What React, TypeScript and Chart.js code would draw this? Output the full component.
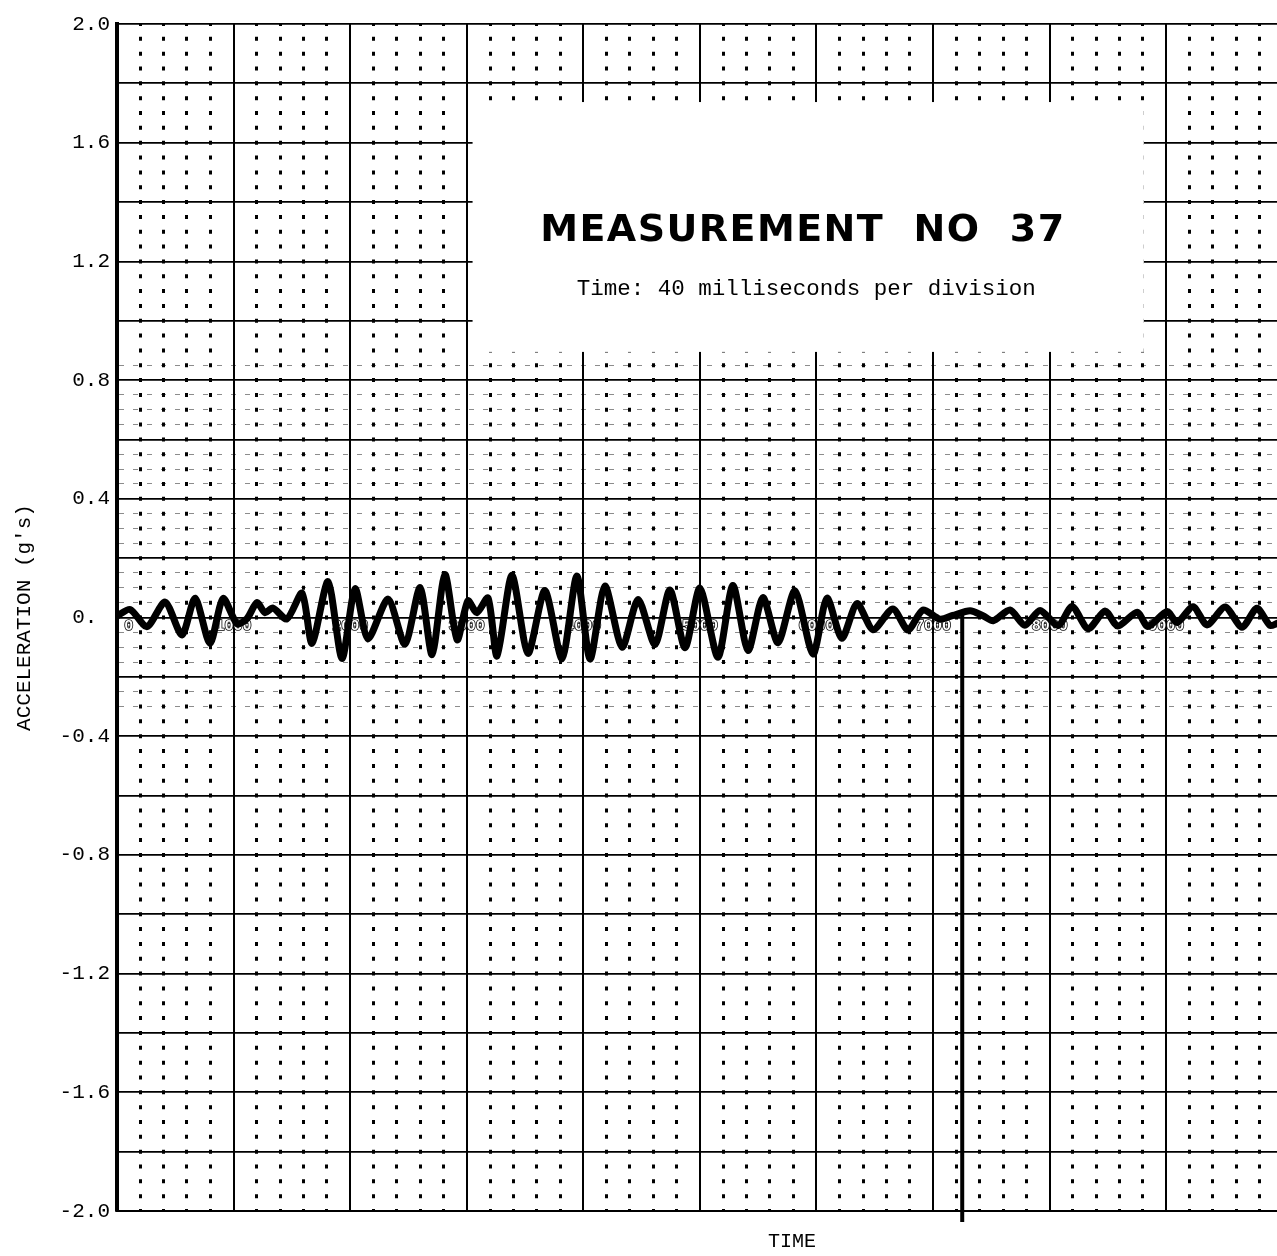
import React, { useEffect, useRef } from "react";
import { Chart, registerables } from "chart.js";

Chart.register(...registerables);

// ---- data (time in ms, acceleration in g) ----
const timeMs = [
  0, 4.5, 10.3, 16.5, 22.3, 26.8, 31.9, 36.4, 41.2, 44.6,
  48.0, 50.8, 53.5, 58.3, 63.5, 66.9, 72.4, 77.2, 81.7, 86.1,
  93.0, 98.8, 104.0, 108.1, 112.5, 116.7, 120.4, 123.5, 127.3, 130.4,
  135.5, 141.0, 146.8, 152.7, 157.8, 162.3, 167.4, 173.3, 178.8, 184.6,
  189.7, 194.9, 200.0, 206.2, 211.3, 216.5, 221.6, 226.8, 232.6, 238.8,
  243.6, 248.7, 253.9, 259.4, 266.2, 271.4, 276.5, 282.4, 286.8, 292.7,
  297.1, 300.6, 306.4, 311.5, 316.7, 322.9, 327.7, 333.2, 339.0, 343.4,
  350.0, 353.7, 360.3, 363.7, 369.2, 374.0, 380.2, 386.0, 391.1, 395.6,
  398.0,
];
const accelG = [
  0.005, 0.027, -0.031, 0.052, -0.059, 0.065, -0.087, 0.064, -0.021, -0.004,
  0.050, 0.016, 0.032, -0.005, 0.082, -0.087, 0.121, -0.138, 0.097, -0.072,
  0.062, -0.090, 0.101, -0.125, 0.145, -0.075, 0.056, 0.016, 0.066, -0.130,
  0.142, -0.121, 0.091, -0.139, 0.140, -0.140, 0.106, -0.100, 0.061, -0.091,
  0.093, -0.102, 0.099, -0.134, 0.108, -0.111, 0.067, -0.085, 0.090, -0.123,
  0.065, -0.070, 0.047, -0.041, 0.029, -0.042, 0.025, -0.006, 0.007, 0.023,
  0.006, -0.011, 0.025, -0.026, 0.024, -0.027, 0.037, -0.038, 0.022, -0.029,
  0.018, -0.030, 0.020, -0.017, 0.036, -0.025, 0.035, -0.033, 0.031, -0.027,
  -0.020,
];

// y-axis tick labels (value -> text)
const yLabelValues = [2.0, 1.6, 1.2, 0.8, 0.4, 0, -0.4, -0.8, -1.2, -1.6, -2.0];
const yLabelTexts = ["2.0", "1.6", "1.2", "0.8", "0.4", "0. ", "-0.4", "-0.8", "-1.2", "-1.6", "-2.0"];

// timing marks printed along the zero line
const markLabels = ["0", "1000", "2000", "3000", "4000", "5000", "6000", "7000", "8000", "9000"];
const markTimes = [4, 40, 80, 120, 160, 200, 240, 280, 320, 360];

const titleText = "MEASUREMENT  NO  37";
const subtitleText = "Time: 40 milliseconds per division";
const yAxisTitle = "ACCELERATION (g's)";
const xAxisTitle = "TIME";
const markerTime = 290;

// ---- layout / style constants ----
const X_MAX = 398;
const MONO = '"Liberation Mono", "DejaVu Sans Mono", monospace';
const BOX = { x1: 122, x2: 352.3, yTop: 1.737, yBottom: 0.895 };
const BAND = { lo: -0.32, hi: 0.88 }; // faint dashed overlay band around the trace

const near = (a: number, b: number) => Math.abs(a - b) < 1e-6;
const isMajorX = (v: number) => near(v / 40, Math.round(v / 40));
const isMinorX = (v: number) => near(v / 8, Math.round(v / 8));
const isMajorY = (v: number) => near(v / 0.2, Math.round(v / 0.2));

const overlayPlugin = {
  id: "overlay",
  beforeDatasetsDraw(chart: any) {
    const { ctx, scales } = chart;
    const x = scales.x;
    const y = scales.y;
    ctx.save();
    // timing marks (under the trace)
    ctx.font = `bold 15px ${MONO}`;
    ctx.textAlign = "center";
    ctx.textBaseline = "middle";
    ctx.lineWidth = 1.6;
    ctx.strokeStyle = "#000";
    ctx.fillStyle = "#fff";
    const my = y.getPixelForValue(-0.03);
    markLabels.forEach((t, i) => {
      const mx = x.getPixelForValue(markTimes[i]);
      ctx.strokeText(t, mx, my);
      ctx.fillText(t, mx, my);
    });
    // pasted-on title label
    const bx1 = x.getPixelForValue(BOX.x1);
    const bx2 = x.getPixelForValue(BOX.x2);
    const by1 = y.getPixelForValue(BOX.yTop);
    const by2 = y.getPixelForValue(BOX.yBottom);
    ctx.fillStyle = "#fff";
    ctx.fillRect(bx1, by1, bx2 - bx1, by2 - by1);
    const cx = (bx1 + bx2) / 2;
    ctx.fillStyle = "#000";
    ctx.font = 'bold 38px "DejaVu Sans", sans-serif';
    const w0 = ctx.measureText(titleText).width;
    const spacing = Math.max(0, (524 - w0) / (titleText.length - 1));
    (ctx as any).letterSpacing = `${spacing}px`;
    ctx.fillText(titleText, cx + spacing / 2 - 6, y.getPixelForValue(1.302));
    (ctx as any).letterSpacing = "0px";
    ctx.font = `22.5px ${MONO}`;
    ctx.fillText(subtitleText, cx - 2, y.getPixelForValue(1.107));
    ctx.restore();
  },
  afterDatasetsDraw(chart: any) {
    const { ctx, scales, chartArea } = chart;
    const mx = scales.x.getPixelForValue(markerTime);
    ctx.save();
    ctx.strokeStyle = "#000";
    ctx.lineWidth = 4;
    ctx.beginPath();
    ctx.moveTo(mx, scales.y.getPixelForValue(0) - 3);
    ctx.lineTo(mx, chartArea.bottom + 11);
    ctx.stroke();
    ctx.restore();
  },
  afterDraw(chart: any) {
    const { ctx, scales, chartArea } = chart;
    ctx.save();
    ctx.fillStyle = "#000";
    ctx.font = `20px ${MONO}`;
    ctx.textAlign = "center";
    ctx.textBaseline = "middle";
    ctx.fillText(xAxisTitle, scales.x.getPixelForValue(231.6), chartArea.bottom + 31);
    ctx.restore();
  },
};

export default function App() {
  const canvasRef = useRef<HTMLCanvasElement | null>(null);

  useEffect(() => {
    const canvas = canvasRef.current;
    if (!canvas) return;
    const chart = new Chart(canvas, {
      type: "line",
      data: {
        datasets: [
          {
            data: timeMs.map((t, i) => ({ x: t, y: accelG[i] })),
            borderColor: "#000",
            borderWidth: 7,
            pointRadius: 0,
            tension: 0.25,
            fill: false,
            borderJoinStyle: "round",
            borderCapStyle: "round",
          },
        ],
      },
      options: {
        animation: false,
        responsive: true,
        maintainAspectRatio: false,
        layout: { padding: { top: 24, left: 0, right: 0, bottom: 0 } },
        plugins: { legend: { display: false }, tooltip: { enabled: false } },
        scales: {
          x: {
            type: "linear",
            min: 0,
            max: X_MAX,
            ticks: { display: false, stepSize: 8, includeBounds: false },
            grid: {
              drawTicks: false,
              color: "#000",
              lineWidth: (c: any) => {
                const v = c.tick ? c.tick.value : null;
                if (v == null) return 0;
                if (isMajorX(v)) return 2;
                if (isMinorX(v)) return 3;
                return 0;
              },
            },
            border: {
              display: true,
              color: "#000",
              width: 2,
              dash: (c: any) => {
                const v = c.tick ? c.tick.value : null;
                if (v == null || isMajorX(v)) return [];
                const a = c.chart.chartArea;
                if (!a) return [];
                const h = (a.bottom - a.top) / 80;
                return [4, h - 4];
              },
              dashOffset: 2,
            },
            afterFit: (s: any) => {
              s.height = 45;
            },
          },
          y: {
            type: "linear",
            min: -2,
            max: 2,
            ticks: {
              stepSize: 0.05,
              autoSkip: false,
              padding: 7,
              color: "#000",
              font: { family: MONO, size: 21 },
              callback: (value: any) => {
                const v = Number(value);
                const i = yLabelValues.findIndex((lv) => near(lv, v));
                return i >= 0 ? yLabelTexts[i] : "";
              },
            },
            grid: {
              drawTicks: false,
              color: (c: any) => {
                const v = c.tick ? c.tick.value : null;
                if (v == null) return "#000";
                return isMajorY(v) ? "#000" : "rgba(0,0,0,0.45)";
              },
              lineWidth: (c: any) => {
                const v = c.tick ? c.tick.value : null;
                if (v == null) return 0;
                if (isMajorY(v)) return 1.8;
                return v > BAND.lo && v < BAND.hi ? 1 : 0;
              },
            },
            border: {
              display: true,
              color: "#000",
              width: 4,
              dash: (c: any) => {
                const v = c.tick ? c.tick.value : null;
                if (v == null || isMajorY(v)) return [];
                return [5, 9];
              },
              dashOffset: 0,
            },
            title: {
              display: true,
              text: yAxisTitle,
              color: "#000",
              font: { family: MONO, size: 21 },
              padding: { top: 12, bottom: 0 },
            },
            afterFit: (s: any) => {
              s.width = 117;
            },
          },
        },
      },
      plugins: [overlayPlugin],
    });
    return () => chart.destroy();
  }, []);

  return (
    <div
      style={{
        position: "absolute",
        left: 0,
        top: 0,
        width: 1277,
        height: 1256,
        background: "#fff",
        overflow: "hidden",
      }}
    >
      <canvas ref={canvasRef} style={{ display: "block" }} />
    </div>
  );
}
